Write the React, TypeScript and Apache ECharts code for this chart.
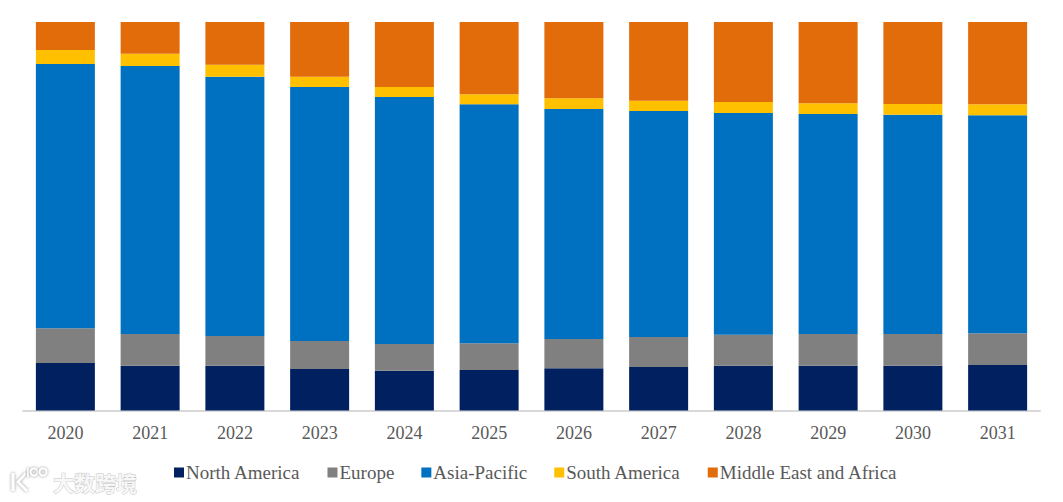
import React, { useEffect, useRef } from "react";
import * as echarts from "echarts";

const years = ["2020","2021","2022","2023","2024","2025","2026","2027","2028","2029","2030","2031"];
const northAmerica = [12.2,11.5,11.5,10.7,10.2,10.4,10.9,11.2,11.5,11.5,11.5,11.7];
const europe = [9.0,8.2,7.7,7.2,6.9,6.9,7.5,7.7,8.0,8.2,8.2,8.2];
const asiaPacific = [68.0,69.0,66.7,65.4,63.6,61.5,59.2,58.2,57.1,56.6,56.4,56.1];
const southAmerica = [3.6,3.1,3.1,2.6,2.6,2.6,2.8,2.6,2.8,2.8,2.8,2.8];
const middleEastAfrica = [7.2,8.2,11.0,14.1,16.7,18.6,19.6,20.3,20.6,20.9,21.1,21.2];

const seriesDefs = [
  { name: "North America", data: northAmerica, color: "#002060" },
  { name: "Europe", data: europe, color: "#808080" },
  { name: "Asia-Pacific", data: asiaPacific, color: "#0070C0" },
  { name: "South America", data: southAmerica, color: "#FFC000" },
  { name: "Middle East and Africa", data: middleEastAfrica, color: "#E36C0A" },
];

const FONT = '"Liberation Serif", serif';

export default function App() {
  const ref = useRef<HTMLDivElement>(null);
  useEffect(() => {
    document.body.style.margin = "0";
    const chart = echarts.init(ref.current!, undefined, { renderer: "svg" });
    const glow = { shadowBlur: 3, shadowColor: "#8a8a8a" };
    const stroke = { stroke: "#ffffff", fill: "none", lineWidth: 2.6, ...glow };
    chart.setOption({
      animation: false,
      backgroundColor: "#ffffff",
      grid: { left: 23, right: 23, top: 22, bottom: 91.5, containLabel: false },
      xAxis: {
        type: "category",
        data: years,
        axisLine: { lineStyle: { color: "#D9D9D9", width: 2 } },
        axisTick: { show: false },
        axisLabel: { color: "#595959", fontFamily: FONT, fontSize: 18, margin: 13 },
      },
      yAxis: { type: "value", min: 0, max: 100, show: false, splitLine: { show: false } },
      legend: {
        left: 169,
        top: 458,
        itemWidth: 10,
        itemHeight: 10,
        itemGap: 27,
        icon: "rect",
        textStyle: { color: "#595959", fontFamily: FONT, fontSize: 19, padding: [0, 0, 0, -3] },
        data: seriesDefs.map((s) => s.name),
      },
      series: seriesDefs.map((s) => ({
        name: s.name,
        type: "bar",
        stack: "total",
        barWidth: 59,
        data: s.data,
        itemStyle: { color: s.color },
      })),
      graphic: [
        {
          type: "text", x: 53, y: 471, silent: true,
          style: { text: "大数跨境", fontFamily: '"Noto Sans CJK SC"', fontSize: 21, fontWeight: "bold", fill: "#f7f7f7", stroke: "#c4c4c4", lineWidth: 0.9 },
        },
        { type: "rect", silent: true, shape: { x: 11.5, y: 473, width: 3, height: 18 }, style: { fill: "#ffffff", ...glow } },
        { type: "polyline", silent: true, shape: { points: [[26, 473], [18, 482], [27, 491]] }, style: stroke },
        { type: "rect", silent: true, shape: { x: 27, y: 468, width: 2, height: 9 }, style: { fill: "#ffffff", ...glow } },
        { type: "circle", silent: true, shape: { cx: 34, cy: 472, r: 3.6 }, style: { ...stroke, lineWidth: 1.8 } },
        { type: "circle", silent: true, shape: { cx: 43, cy: 472, r: 3.6 }, style: { ...stroke, lineWidth: 1.8 } },
      ],
    });
    return () => chart.dispose();
  }, []);
  return <div ref={ref} style={{ width: 1063, height: 502 }} />;
}
